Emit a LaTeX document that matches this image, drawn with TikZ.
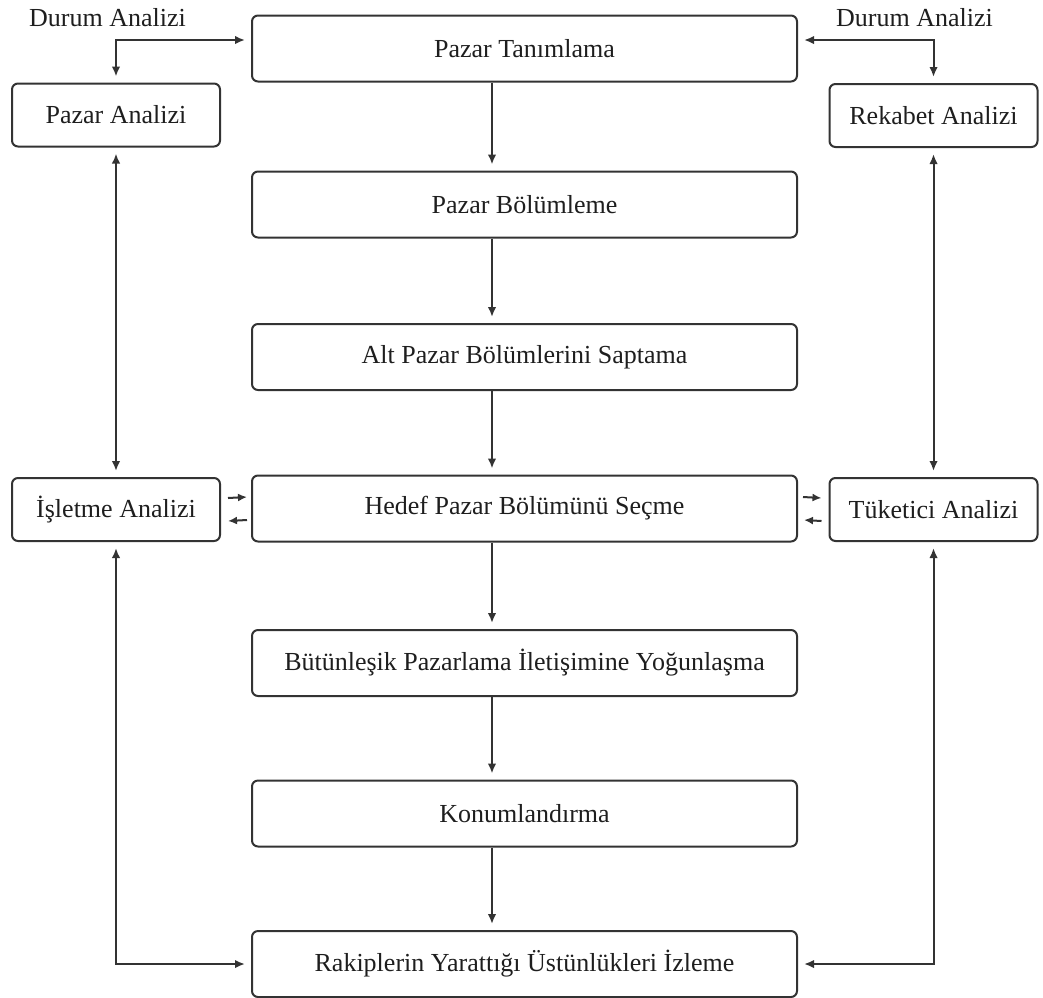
\documentclass[tikz,border=0pt]{standalone}
\usepackage{fontspec}
\setmainfont{Liberation Serif}
\usetikzlibrary{arrows.meta,calc}
\definecolor{linec}{HTML}{333333}
\definecolor{txt}{HTML}{1E1E1E}
\begin{document}
\begin{tikzpicture}[x=1pt,y=-1pt,
  box/.style={draw=linec,line width=2pt,rounded corners=6pt,inner sep=0pt,
              font=\fontsize{26}{31}\selectfont,text=txt},
  mainbox/.style={box,minimum width=545pt,minimum height=66pt},
  sidebox/.style={box,minimum width=208pt,minimum height=63pt},
  lbl/.style={font=\fontsize{26}{31}\selectfont,text=txt,inner sep=0pt},
  arr/.style={draw=linec,line width=2pt,-{Latex[length=10pt,width=8.5pt]},shorten >=6pt},
  arrb/.style={draw=linec,line width=2pt,{Latex[length=10pt,width=8.5pt]}-{Latex[length=10pt,width=8.5pt]},
               shorten >=6pt,shorten <=6pt},
  short/.style={draw=linec,line width=2pt,-{Latex[length=9pt,width=8pt]}}
]
\useasboundingbox (0,0) rectangle (1043,997);

% central chain
\node[mainbox] (pt)  at (524.5,48.5) {Pazar Tanımlama};
\node[mainbox] (pb)  at (524.5,204.5) {Pazar Bölümleme};
\node[mainbox] (ap)  at (524.5,357) {Alt Pazar Bölümlerini Saptama};
\node[mainbox] (hd)  at (524.5,508.5) {Hedef Pazar Bölümünü Seçme};
\node[mainbox] (bt)  at (524.5,663) {Bütünleşik Pazarlama İletişimine Yoğunlaşma};
\node[mainbox] (kn)  at (524.5,813.5) {Konumlandırma};
\node[mainbox] (rk)  at (524.5,964) {Rakiplerin Yarattığı Üstünlükleri İzleme};

% side analyses
\node[sidebox] (pa)  at (116,115) {Pazar Analizi};
\node[sidebox] (isl) at (116,509.5) {İşletme Analizi};
\node[sidebox] (rek) at (933.5,115.5) {Rekabet Analizi};
\node[sidebox] (tuk) at (933.5,509.5) {Tüketici Analizi};

% headings
\node[lbl,anchor=base west] (dl) at (29,26) {Durum Analizi};
\node[lbl,anchor=base west] (dr) at (836,26) {Durum Analizi};

% column of the central arrows
\coordinate (colx) at (492,0);

\foreach \a/\b in {pt/pb,pb/ap,ap/hd,hd/bt,bt/kn,kn/rk}
  \draw[arr,shorten <=0pt] (\a.south -| colx) -- (\b.north -| colx);

% situation analysis links
\draw[arrb] (pa.north) |- ([yshift=8.5pt]pt.west);
\draw[arrb] (rek.north) |- ([yshift=8.5pt]pt.east);

% vertical side links
\draw[arrb] (pa.south) -- (isl.north);
\draw[arrb] (rek.south) -- (tuk.north);

% links to monitoring
\draw[arrb] (isl.south) |- (rk.west);
\draw[arrb] (tuk.south) |- (rk.east);

% exchanges with target selection
\draw[short] ([xshift=7pt,yshift=11.5pt]isl.east) -- ([xshift=-4pt,yshift=11.5pt]hd.west);
\draw[short] ([xshift=-4pt,yshift=-11.5pt]hd.west) -- ([xshift=7pt,yshift=-11.5pt]isl.east);
\draw[short] ([xshift=5pt,yshift=11.5pt]hd.east) -- ([xshift=-7pt,yshift=11.5pt]tuk.west);
\draw[short] ([xshift=-7pt,yshift=-11.5pt]tuk.west) -- ([xshift=6pt,yshift=-11.5pt]hd.east);
\end{tikzpicture}
\end{document}
